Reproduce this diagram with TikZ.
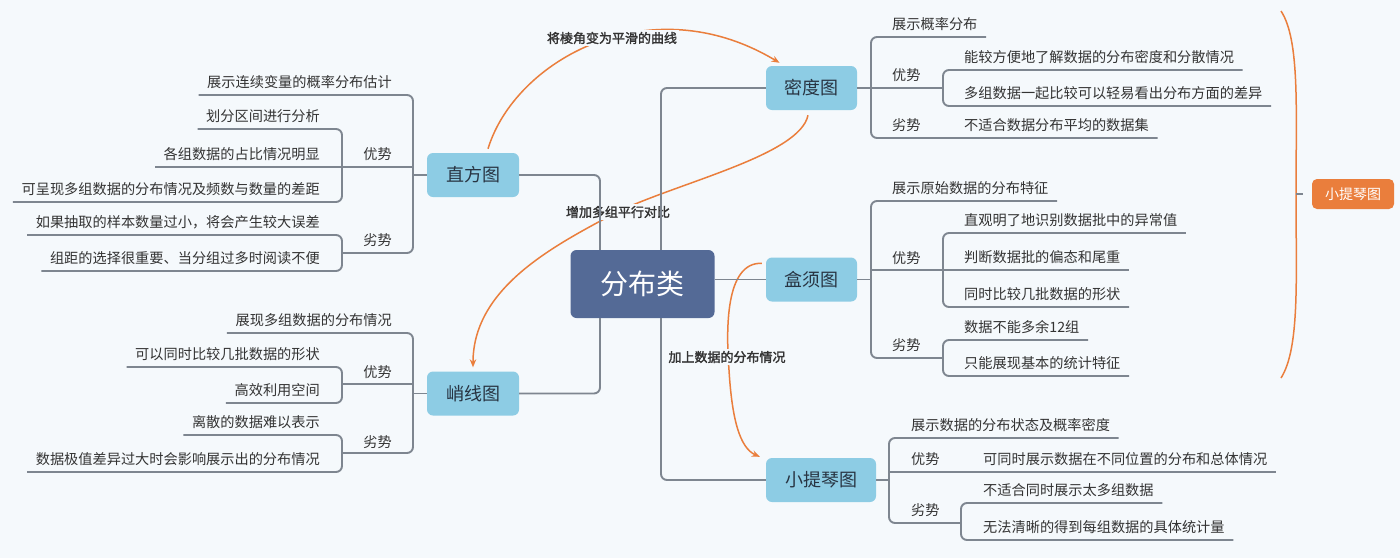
\documentclass[tikz,border=0pt]{standalone}
\usepackage{fontspec}
\newfontfamily\cjk[AutoFakeBold=2]{Noto Sans CJK SC}
\usetikzlibrary{arrows.meta}
\definecolor{bgc}{RGB}{245,249,252}
\definecolor{linec}{RGB}{126,134,144}
\definecolor{leafc}{RGB}{51,51,51}
\definecolor{topicc}{RGB}{141,204,228}
\definecolor{topict}{RGB}{40,52,66}
\definecolor{rootc}{RGB}{84,106,150}
\definecolor{orc}{RGB}{234,126,60}
\tikzset{
  conn/.style={draw=linec, line width=1.9pt, rounded corners=6pt},
  rel/.style={draw=orc, line width=1.5pt, -{Stealth[length=8pt,width=6.5pt]}},
  bracec/.style={draw=orc, line width=1.5pt},
  leafL/.style={font=\cjk\fontsize{14.2}{17}\selectfont, text=leafc, inner sep=0pt, anchor=base east},
  leafR/.style={font=\cjk\fontsize{14.2}{17}\selectfont, text=leafc, inner sep=0pt, anchor=base west},
  topic/.style={fill=topicc, rounded corners=6pt, minimum width=92pt, minimum height=44pt, inner sep=0pt, font=\cjk\fontsize{18}{20}\selectfont, text=topict},
  rootn/.style={fill=rootc, rounded corners=6pt, minimum width=144pt, minimum height=68pt, inner sep=0pt, font=\cjk\fontsize{28}{30}\selectfont, text=white},
  rlabel/.style={fill=bgc, inner sep=2pt, font=\cjk\bfseries\fontsize{13}{15}\selectfont, text=leafc},
  summ/.style={fill=orc, rounded corners=5pt, minimum width=82pt, minimum height=30pt, inner sep=0pt, font=\cjk\fontsize{14}{16}\selectfont, text=white}
}
\begin{document}
\begin{tikzpicture}[x=1pt,y=-1pt]
\fill[bgc] (0,0) rectangle (1400,558);
\useasboundingbox (0,0) rectangle (1400,558);

% main nodes
\node[rootn] (fb) at (642.5,284) {分布类};
\node[topic] (zf) at (473,175) {直方图};
\node[topic] (qx) at (473,393.5) {峭线图};
\node[topic, minimum width=91pt] (md) at (811.5,88) {密度图};
\node[topic, minimum width=91pt] (hx) at (811.5,279.5) {盒须图};
\node[topic, minimum width=110pt] (xt) at (821,480) {小提琴图};
\node[summ] (sm) at (1353,194) {小提琴图};

% 直方图 leaves
\node[leafL] (zf1) at (392,87) {展示连续变量的概率分布估计};
\node[leafL] (zfy) at (392,159) {优势};
\node[leafL] (zfl) at (392,245) {劣势};
\node[leafL] (zf2) at (320,121) {划分区间进行分析};
\node[leafL] (zf3) at (320,159) {各组数据的占比情况明显};
\node[leafL] (zf4) at (320,194) {可呈现多组数据的分布情况及频数与数量的差距};
\node[leafL] (zf5) at (320,227) {如果抽取的样本数量过小，将会产生较大误差};
\node[leafL] (zf6) at (320,263) {组距的选择很重要、当分组过多时阅读不便};

% 峭线图 leaves
\node[leafL] (qx1) at (392,325) {展现多组数据的分布情况};
\node[leafL] (qxy) at (392,377) {优势};
\node[leafL] (qxl) at (392,447) {劣势};
\node[leafL] (qx2) at (320,359) {可以同时比较几批数据的形状};
\node[leafL] (qx3) at (320,395) {高效利用空间};
\node[leafL] (qx4) at (320,427) {离散的数据难以表示};
\node[leafL] (qx5) at (320,464) {数据极值差异过大时会影响展示出的分布情况};

% 密度图 leaves
\node[leafR] (md1) at (892,29) {展示概率分布};
\node[leafR] (mdy) at (892,80) {优势};
\node[leafR] (md2) at (964,62) {能较方便地了解数据的分布密度和分散情况};
\node[leafR] (md3) at (964,98) {多组数据一起比较可以轻易看出分布方面的差异};
\node[leafR] (mdl) at (892,130) {劣势};
\node[leafR] (md4) at (964,130) {不适合数据分布平均的数据集};

% 盒须图 leaves
\node[leafR] (hx1) at (892,193) {展示原始数据的分布特征};
\node[leafR] (hxy) at (892,263) {优势};
\node[leafR] (hx2) at (964,225) {直观明了地识别数据批中的异常值};
\node[leafR] (hx3) at (964,262) {判断数据批的偏态和尾重};
\node[leafR] (hx4) at (964,299) {同时比较几批数据的形状};
\node[leafR] (hxl) at (892,350) {劣势};
\node[leafR] (hx5) at (964,332) {数据不能多余12组};
\node[leafR] (hx6) at (964,368) {只能展现基本的统计特征};

% 小提琴图 leaves
\node[leafR] (xt1) at (911,430) {展示数据的分布状态及概率密度};
\node[leafR] (xty) at (911,464) {优势};
\node[leafR] (xt2) at (983,464) {可同时展示数据在不同位置的分布和总体情况};
\node[leafR] (xtl) at (911,515) {劣势};
\node[leafR] (xt3) at (983,495) {不适合同时展示太多组数据};
\node[leafR] (xt4) at (983,532) {无法清晰的得到每组数据的具体统计量};

% orange relation curves
\draw[rel] ([xshift=15pt,yshift=4pt]zf.north) .. controls (515,60) and (650,-15) .. ([xshift=-32pt,yshift=3pt]md.north);
\coordinate (r2m) at (617,212);
\draw[rel] ([xshift=-3.5pt,yshift=-5pt]md.south) .. controls (800,155) and (680,182) .. (r2m) .. controls (560,243) and (473,285) .. ([yshift=4pt]qx.north);
\coordinate (r3m) at (729,370);
\draw[rel] ([xshift=-4pt,yshift=-6pt]hx.north west) .. controls (725,262) and (726,330) .. (r3m) .. controls (732,420) and (740,448) .. ([xshift=-6pt,yshift=1pt]xt.north west);

% summary brace
\coordinate (bt) at (1281,11);
\coordinate (bm) at (1296,194);
\coordinate (bb) at (1281,378);
\draw[bracec] (bt) .. controls (1300,40) and (1296,110) .. (bm) .. controls (1296,278) and (1300,348) .. (bb);

% relation labels
\node[rlabel] (lab1) at (612,38) {将棱角变为平滑的曲线};
\node[rlabel] (lab2) at (618,212) {增加多组平行对比};
\node[rlabel] (lab3) at (727,357) {加上数据的分布情况};

% root connectors
\draw[conn] ([xshift=-42.5pt]fb.north) |- (zf.east);
\draw[conn] ([xshift=18.5pt]fb.north) |- (md.west);
\draw[conn] (fb.east |- hx.west) -- (hx.west);
\draw[conn] ([xshift=-42.5pt]fb.south) |- (qx.east);
\draw[conn] ([xshift=18.5pt]fb.south) |- (xt.west);
\draw[conn] (bm) -- ([xshift=-9pt]sm.west);

% 直方图 branches
\coordinate (zfA) at (413,95);
\coordinate (zfB) at (413,253);
\coordinate (zfY) at (413,167);
\coordinate (zfY1) at (342,129);
\coordinate (zfY2) at (342,202);
\coordinate (zfL1) at (342,235);
\coordinate (zfL2) at (342,271);
\coordinate (zfLs) at (342,253);
\draw[conn] (zf.west) -- (zf.west -| zfA);
\draw[conn] ([xshift=-8.5pt]zf1.west |- zfA) -- (zfA) -- (zfB) -- (zfLs);
\draw[conn] (zfY) -- ([xshift=-8.5pt]zf3.west |- zfY);
\draw[conn] ([xshift=-8.5pt]zf2.west |- zfY1) -- (zfY1) -- (zfY2) -- ([xshift=-8.5pt]zf4.west |- zfY2);
\draw[conn] ([xshift=-8.5pt]zf5.west |- zfL1) -- (zfL1) -- (zfL2) -- ([xshift=-8.5pt]zf6.west |- zfL2);

% 峭线图 branches
\coordinate (qxA) at (413,333);
\coordinate (qxB) at (413,453);
\coordinate (qxY) at (413,384);
\coordinate (qxYs) at (342,384);
\coordinate (qxY1) at (342,367);
\coordinate (qxY2) at (342,403);
\coordinate (qxL1) at (342,435);
\coordinate (qxL2) at (342,472);
\coordinate (qxLs) at (342,453);
\draw[conn] (qx.west) -- (qx.west -| qxA);
\draw[conn] ([xshift=-8.5pt]qx1.west |- qxA) -- (qxA) -- (qxB) -- (qxLs);
\draw[conn] (qxY) -- (qxYs);
\draw[conn] ([xshift=-8.5pt]qx2.west |- qxY1) -- (qxY1) -- (qxY2) -- ([xshift=-8.5pt]qx3.west |- qxY2);
\draw[conn] ([xshift=-8.5pt]qx4.west |- qxL1) -- (qxL1) -- (qxL2) -- ([xshift=-8.5pt]qx5.west |- qxL2);

% 密度图 branches
\coordinate (mdA) at (871,37);
\coordinate (mdB) at (871,138);
\coordinate (mdYs) at (943,88);
\coordinate (mdY1) at (943,70);
\coordinate (mdY2) at (943,106);
\draw[conn] (md.east) -- (mdYs);
\draw[conn] ([xshift=8.5pt]md1.east |- mdA) -- (mdA) -- (mdB) -- ([xshift=8.5pt]md4.east |- mdB);
\draw[conn] ([xshift=8.5pt]md2.east |- mdY1) -- (mdY1) -- (mdY2) -- ([xshift=8.5pt]md3.east |- mdY2);

% 盒须图 branches
\coordinate (hxA) at (871,201);
\coordinate (hxB) at (871,358);
\coordinate (hxY) at (871,270);
\coordinate (hxY1) at (943,233);
\coordinate (hxY2) at (943,307);
\coordinate (hxL1) at (943,340);
\coordinate (hxL2) at (943,376);
\coordinate (hxLs) at (943,358);
\draw[conn] (hx.east) -- (hx.east -| hxA);
\draw[conn] ([xshift=8.5pt]hx1.east |- hxA) -- (hxA) -- (hxB) -- (hxLs);
\draw[conn] (hxY) -- ([xshift=8.5pt]hx3.east |- hxY);
\draw[conn] ([xshift=8.5pt]hx2.east |- hxY1) -- (hxY1) -- (hxY2) -- ([xshift=8.5pt]hx4.east |- hxY2);
\draw[conn] ([xshift=8.5pt]hx5.east |- hxL1) -- (hxL1) -- (hxL2) -- ([xshift=8.5pt]hx6.east |- hxL2);

% 小提琴图 branches
\coordinate (xtA) at (889,438);
\coordinate (xtB) at (889,523);
\coordinate (xtY) at (889,472);
\coordinate (xtL1) at (961,503);
\coordinate (xtL2) at (961,540);
\coordinate (xtLs) at (961,523);
\draw[conn] (xt.east) -- (xt.east -| xtA);
\draw[conn] ([xshift=8.5pt]xt1.east |- xtA) -- (xtA) -- (xtB) -- (xtLs);
\draw[conn] (xtY) -- ([xshift=8.5pt]xt2.east |- xtY);
\draw[conn] ([xshift=8.5pt]xt3.east |- xtL1) -- (xtL1) -- (xtL2) -- ([xshift=8.5pt]xt4.east |- xtL2);
\end{tikzpicture}
\end{document}
